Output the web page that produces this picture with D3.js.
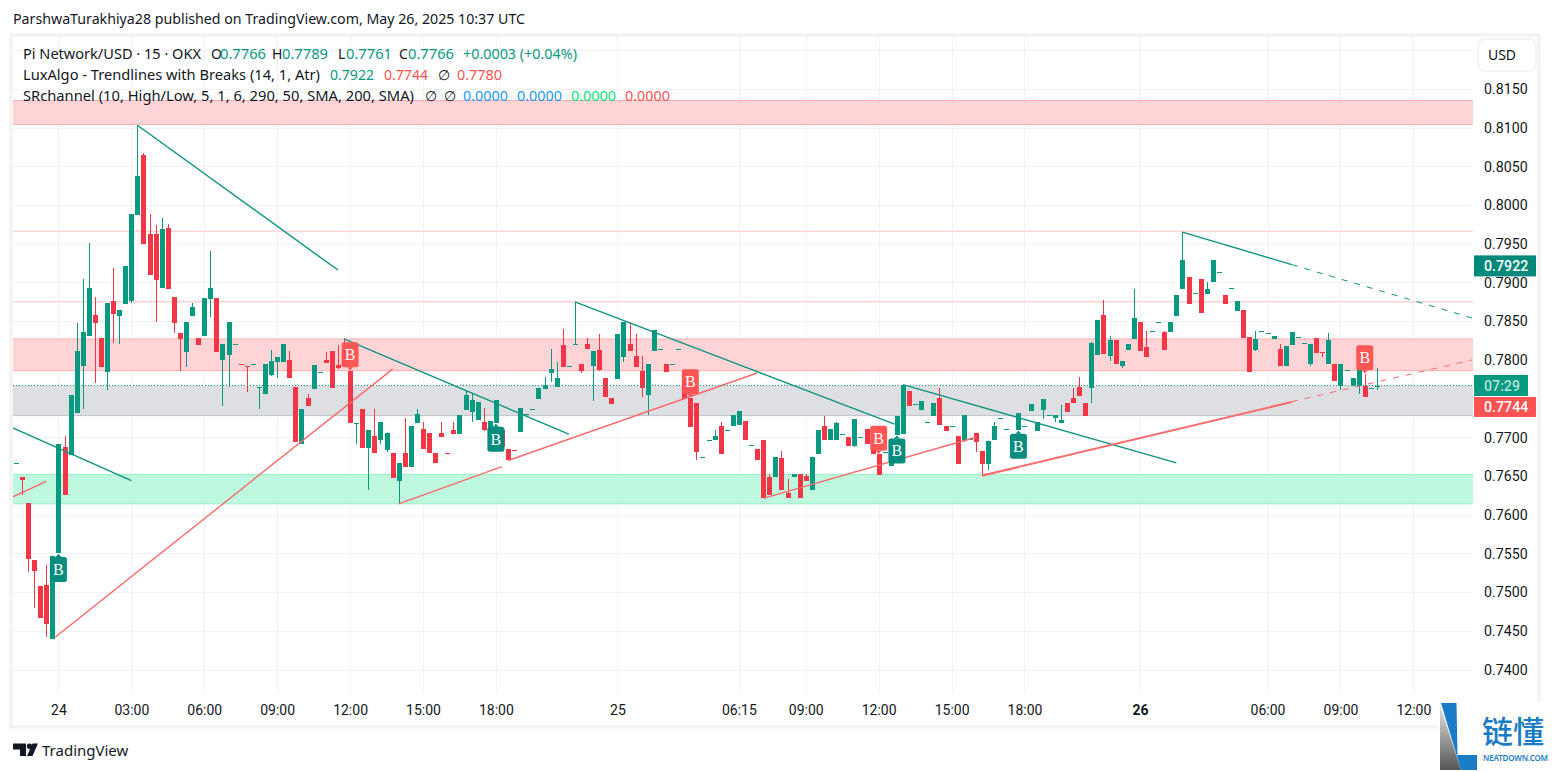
<!DOCTYPE html>
<html>
<head>
<meta charset="utf-8">
<title>Pi Network/USD</title>
<script src="https://cdn.jsdelivr.net/npm/d3@7/dist/d3.min.js"></script>
<style>
body { margin: 0; background: #fff; }
text { font-family: "Noto Sans", sans-serif; }
</style>
</head>
<body>
<svg id="chart" width="1553" height="772"></svg>
<script>
// 15 min candles
var opens = [.7667,.7649,.7615,.7542,.7508,.7509,.7439,.7550,.7687,.7677,.7731,.7792,.7831,.7858,.7828,.7784,.7876,.7857,.7872,.7876,.7987,.8065,.7963,.7962,.7893,.7970,.7881,.7835,.7810,.7857,.7828,.7831,.7879,.7880,.7800,.7806,.7820,.7794,.7792,.7793,.7765,.7756,.7781,.7797,.7797,.7800,.7765,.7691,.7751,.7762,.7784,.7800,.7812,.7793,.7812,.7786,.7718,.7737,.7686,.7702,.7697,.7684,.7680,.7643,.7680,.7662,.7719,.7711,.7706,.7680,.7706,.7680,.7709,.7704,.7735,.7733,.7722,.7720,.7697,.7718,.7709,.7685,.7684,.7707,.7730,.7737,.7749,.7762,.7783,.7765,.7819,.7792,.7820,.7794,.7821,.7792,.7813,.7777,.7751,.7775,.7804,.7821,.7805,.7786,.7755,.7812,.7814,.7794,.7794,.7814,.7777,.7751,.7744,.7674,.7697,.7697,.7715,.7709,.7714,.7716,.7721,.7690,.7685,.7697,.7649,.7649,.7673,.7628,.7649,.7653,.7650,.7632,.7678,.7715,.7697,.7697,.7704,.7700,.7689,.7700,.7711,.7685,.7678,.7681,.7663,.7703,.7704,.7760,.7743,.7735,.7720,.7727,.7751,.7715,.7715,.7702,.7697,.7698,.7706,.7682,.7666,.7697,.7725,.7711,.7698,.7709,.7715,.7734,.7708,.7735,.7729,.7725,.7718,.7744,.7751,.7765,.7744,.7764,.7806,.7858,.7805,.7826,.7792,.7813,.7827,.7849,.7817,.7837,.7849,.7836,.7836,.7857,.7892,.7907,.7886,.7905,.7885,.7900,.7914,.7884,.7893,.7863,.7864,.7829,.7813,.7837,.7835,.7827,.7814,.7792,.7819,.7829,.7822,.7794,.7828,.7810,.7794,.7794,.7766,.7787,.7766,.7766,.7766,.7764,.7766];
var highs = [.7667,.7649,.7615,.7542,.7508,.7535,.7547,.7691,.7702,.7755,.7847,.7904,.7951,.7881,.7828,.7873,.7919,.7864,.7921,.7989,.8103,.8067,.7989,.7974,.7983,.7975,.7881,.7835,.7849,.7873,.7828,.7880,.7941,.7880,.7821,.7849,.7821,.7794,.7792,.7794,.7765,.7794,.7813,.7804,.7821,.7811,.7765,.7737,.7756,.7793,.7784,.7810,.7812,.7819,.7827,.7786,.7719,.7737,.7710,.7737,.7720,.7706,.7680,.7667,.7725,.7715,.7737,.7720,.7706,.7680,.7720,.7680,.7720,.7729,.7760,.7756,.7745,.7738,.7721,.7748,.7709,.7685,.7684,.7738,.7730,.7737,.7764,.7778,.7814,.7797,.7840,.7792,.7875,.7794,.7828,.7812,.7834,.7777,.7751,.7834,.7849,.7849,.7834,.7805,.7794,.7838,.7814,.7794,.7794,.7814,.7777,.7751,.7744,.7674,.7697,.7709,.7720,.7709,.7729,.7734,.7721,.7690,.7685,.7697,.7652,.7674,.7682,.7646,.7653,.7653,.7653,.7674,.7709,.7728,.7711,.7720,.7704,.7700,.7724,.7700,.7711,.7685,.7678,.7681,.7686,.7728,.7768,.7760,.7743,.7747,.7720,.7744,.7764,.7715,.7715,.7702,.7729,.7698,.7706,.7682,.7695,.7720,.7725,.7711,.7698,.7731,.7715,.7743,.7720,.7749,.7729,.7729,.7742,.7744,.7764,.7778,.7744,.7823,.7852,.7877,.7831,.7826,.7799,.7821,.7891,.7849,.7837,.7837,.7849,.7837,.7849,.7884,.7965,.7907,.7886,.7905,.7901,.7929,.7914,.7884,.7893,.7876,.7864,.7829,.7837,.7837,.7835,.7831,.7821,.7818,.7836,.7829,.7822,.7821,.7828,.7810,.7835,.7794,.7795,.7787,.7777,.7787,.7782,.7764,.7789];
var lows = [.7667,.7626,.7526,.7480,.7467,.7442,.7439,.7550,.7625,.7677,.7731,.7737,.7831,.7770,.7791,.7761,.7822,.7821,.7872,.7873,.7987,.7950,.7909,.7849,.7893,.7891,.7835,.7786,.7791,.7857,.7819,.7831,.7855,.7810,.7740,.7765,.7820,.7793,.7758,.7793,.7737,.7756,.7779,.7777,.7797,.7777,.7694,.7691,.7740,.7762,.7784,.7796,.7764,.7788,.7792,.7718,.7691,.7686,.7632,.7680,.7691,.7681,.7648,.7614,.7662,.7662,.7719,.7685,.7680,.7667,.7700,.7679,.7704,.7704,.7735,.7720,.7722,.7708,.7697,.7718,.7687,.7670,.7683,.7707,.7730,.7737,.7749,.7762,.7771,.7765,.7791,.7792,.7820,.7783,.7814,.7747,.7786,.7752,.7743,.7775,.7797,.7812,.7791,.7752,.7729,.7812,.7814,.7784,.7794,.7814,.7749,.7713,.7670,.7674,.7697,.7697,.7679,.7709,.7714,.7716,.7697,.7690,.7670,.7621,.7626,.7649,.7632,.7621,.7649,.7621,.7644,.7632,.7678,.7697,.7697,.7697,.7704,.7689,.7688,.7700,.7691,.7678,.7651,.7681,.7663,.7703,.7704,.7740,.7743,.7735,.7720,.7727,.7716,.7708,.7715,.7666,.7694,.7698,.7681,.7651,.7658,.7697,.7725,.7711,.7686,.7709,.7715,.7734,.7708,.7723,.7729,.7720,.7718,.7733,.7744,.7753,.7727,.7744,.7806,.7808,.7799,.7794,.7790,.7813,.7827,.7812,.7804,.7837,.7849,.7813,.7836,.7857,.7892,.7872,.7886,.7860,.7885,.7900,.7914,.7872,.7893,.7863,.7828,.7784,.7812,.7837,.7835,.7827,.7792,.7792,.7819,.7829,.7822,.7792,.7809,.7804,.7794,.7773,.7761,.7787,.7766,.7756,.7752,.7764,.7761];
var closes = [.7667,.7645,.7543,.7527,.7467,.7459,.7547,.7691,.7625,.7755,.7812,.7836,.7893,.7848,.7791,.7873,.7859,.7864,.7921,.7989,.8038,.7950,.7909,.7903,.7969,.7891,.7847,.7827,.7849,.7868,.7819,.7880,.7893,.7810,.7821,.7849,.7821,.7793,.7791,.7794,.7765,.7794,.7799,.7804,.7821,.7777,.7694,.7737,.7740,.7793,.7784,.7796,.7764,.7790,.7792,.7718,.7719,.7686,.7710,.7680,.7720,.7706,.7648,.7667,.7662,.7715,.7730,.7685,.7680,.7667,.7700,.7679,.7704,.7729,.7755,.7748,.7745,.7709,.7721,.7748,.7687,.7670,.7683,.7738,.7730,.7737,.7764,.7768,.7788,.7777,.7791,.7792,.7821,.7786,.7814,.7812,.7787,.7752,.7743,.7834,.7849,.7812,.7791,.7764,.7794,.7838,.7814,.7784,.7794,.7814,.7749,.7713,.7681,.7674,.7697,.7702,.7679,.7709,.7729,.7734,.7697,.7690,.7670,.7621,.7626,.7674,.7632,.7621,.7653,.7621,.7644,.7674,.7709,.7697,.7711,.7718,.7704,.7689,.7724,.7700,.7691,.7678,.7651,.7681,.7686,.7728,.7768,.7740,.7743,.7747,.7720,.7744,.7716,.7708,.7715,.7666,.7729,.7698,.7694,.7666,.7695,.7715,.7725,.7711,.7695,.7731,.7715,.7743,.7720,.7749,.7729,.7729,.7722,.7733,.7744,.7753,.7727,.7822,.7852,.7808,.7826,.7794,.7799,.7821,.7854,.7812,.7804,.7837,.7849,.7813,.7849,.7884,.7929,.7872,.7886,.7860,.7892,.7929,.7914,.7872,.7893,.7876,.7828,.7784,.7827,.7837,.7835,.7831,.7792,.7818,.7836,.7829,.7822,.7821,.7809,.7809,.7826,.7773,.7795,.7787,.7777,.7787,.7752,.7764,.7766];

var priceTicks = [.815,.81,.805,.8,.795,.79,.785,.78,.77,.765,.76,.755,.75,.745,.74];
var priceGrid = [.82,.815,.81,.805,.8,.795,.79,.785,.78,.775,.77,.765,.76,.755,.75,.745,.74,.735];
var timeIdx = [7,19,31,43,55,67,79,99,119,130,142,154,166,185,206,218,230];
var timeLabels = ["24","03:00","06:00","09:00","12:00","15:00","18:00","25","06:15","09:00","12:00","15:00","18:00","26","06:00","09:00","12:00"];

// support / resistance zones
var zoneTop = [.8135,.7967,.7876,.7827,.7767,.7652];
var zoneBottom = [.8104,.7965,.7874,.7786,.7728,.7614];
var zoneKind = ["res","line","line","res","mid","sup"];

// trendlines: start index, start price, end index, end price
var greenLines = [[-.5,.7712,19,.7644],[20,.8103,53,.7916],[54,.7827,91,.7704],[92,.7875,144.6,.7717],[146,.7768,191,.7667],[192,.7965,210,.7923]];
var redLines = [[-.5,.7623,5,.7643],[6.5,.7442,62,.7788],[63,.7614,80,.7662],[81,.7670,122,.7783],[123,.7621,158,.7700],[159,.7651,210,.7746],[159,.7650,210,.7745]];
var greenDash = [[210,.7923,239.7,.7854]];
var redDash = [[210,.7746,239.7,.7800]];

// break labels
var buyGreen = [7,79,145,165];
var buyRed = [55,111,142,222];

var lastPrice = .7767;
var upperLevel = .7922;
var lowerLevel = .7744;

var svg = d3.select("#chart");
var left = 13, right = 1473, top_ = 37, bottom = 693;

var x = d3.scaleLinear().domain([0,224]).range([15.9,1376.9]);
var y = d3.scaleLinear().domain([.74,.81]).range([669.5,127.6]);

svg.append("defs").append("clipPath").attr("id","pane")
	.append("rect").attr("x",left).attr("y",top_).attr("width",right-left).attr("height",bottom-top_);

// outer frame
svg.append("rect").attr("x",11).attr("y",35).attr("width",1528).attr("height",692)
	.attr("fill","none").attr("stroke","#f2f2f3").attr("stroke-width",3);

var pane = svg.append("g").attr("clip-path","url(#pane)");

// grid
pane.selectAll(".hgrid").data(priceGrid).enter().append("line")
	.attr("x1",left).attr("x2",right)
	.attr("y1",function(d){return Math.round(y(d))+.5})
	.attr("y2",function(d){return Math.round(y(d))+.5})
	.attr("stroke","#f2f2f3").attr("stroke-width",1);
pane.selectAll(".vgrid").data(timeIdx).enter().append("line")
	.attr("y1",top_).attr("y2",bottom)
	.attr("x1",function(d){return Math.round(x(d))+.5})
	.attr("x2",function(d){return Math.round(x(d))+.5})
	.attr("stroke","#f2f2f3").attr("stroke-width",1);

// zones
var zoneFill = {res:"#ffd2d4",line:"#ffd2d4",mid:"#dcdde1",sup:"#bbf8dc"};
var zoneEdge = {res:"#ffb0b0",line:"#ffd2d4",mid:"#c2c3c9",sup:"#99efc4"};
zoneTop.forEach(function(t,i){
	var kind = zoneKind[i];
	pane.append("rect").attr("x",left).attr("width",right-left)
		.attr("y",y(t)).attr("height",y(zoneBottom[i])-y(t))
		.attr("fill",zoneFill[kind]).attr("fill-opacity",.95);
	if(kind!="line"){
		[t,zoneBottom[i]].forEach(function(v,k){
			if(kind=="mid" && k==0) return;
			pane.append("line").attr("x1",left).attr("x2",right)
				.attr("y1",y(v)).attr("y2",y(v))
				.attr("stroke",zoneEdge[kind]).attr("stroke-width",1);
		});
	}
});

// candles
var up = "#089981", down = "#f23645";
var candles = pane.append("g").attr("shape-rendering","crispEdges");
opens.forEach(function(o,i){
	var c = closes[i];
	var col = c>=o ? up : down;
	var cx = Math.round(x(i));
	candles.append("rect").attr("x",cx).attr("width",1)
		.attr("y",y(highs[i])).attr("height",Math.max(y(lows[i])-y(highs[i]),1))
		.attr("fill",col);
	var yt = y(Math.max(o,c)), yb = y(Math.min(o,c));
	candles.append("rect").attr("x",cx-2).attr("width",5)
		.attr("y",yt).attr("height",Math.max(yb-yt,1))
		.attr("fill",col);
});

// trendlines
function drawLines(list,col,dash){
	pane.selectAll(null).data(list).enter().append("line")
		.attr("x1",function(d){return x(d[0])})
		.attr("y1",function(d){return y(d[1])})
		.attr("x2",function(d){return x(d[2])})
		.attr("y2",function(d){return y(d[3])})
		.attr("stroke",col).attr("stroke-width",dash?1:1.4)
		.attr("stroke-dasharray",dash?"6 7":null);
}
drawLines(greenLines,"#0f9480",false);
drawLines(redLines,"#fa6a6a",false);
drawLines(greenDash,"#0f9480",true);
drawLines(redDash,"#fa6a6a",true);

// current price dotted line
pane.append("line").attr("x1",left).attr("x2",right)
	.attr("y1",Math.round(y(lastPrice))+.5).attr("y2",Math.round(y(lastPrice))+.5)
	.attr("stroke","#089981").attr("stroke-width",1).attr("stroke-dasharray","1 2");

// B labels
function badge(i,isGreen){
	var cx = x(i);
	var col = isGreen ? "#00897b" : "#ff5252";
	var py = isGreen ? y(lows[i])+.5 : y(highs[i])-.5;
	var dir = isGreen ? 1 : -1;
	var g = pane.append("g");
	var bt = isGreen ? py+3 : py-28;
	g.append("rect").attr("x",cx-8.5).attr("y",bt).attr("width",17).attr("height",25)
		.attr("rx",2.5).attr("fill",col).attr("fill-opacity",.97);
	g.append("path").attr("d",d3.line()([[cx-3,py+dir*3],[cx,py],[cx+3,py+dir*3]])).attr("fill",col);
	g.append("text").attr("x",cx).attr("y",bt+18).attr("text-anchor","middle")
		.attr("fill","#fff").attr("font-size",16).style("font-family","'Liberation Serif',serif").text("B");
}
buyGreen.forEach(function(i){badge(i,true)});
buyRed.forEach(function(i){badge(i,false)});

// price axis
var yAxis = d3.axisRight(y).tickValues(priceTicks).tickFormat(d3.format(".4f")).tickSize(0).tickPadding(0);
var gy = svg.append("g").attr("transform","translate(1484,0)").call(yAxis);
gy.select(".domain").remove();
gy.selectAll("text").attr("fill","#131722").attr("font-size",14.2).style("font-family","Roboto, sans-serif").attr("dy",".34em");

// time axis
var xAxis = d3.axisBottom(x).tickValues(timeIdx).tickFormat(function(d,i){return timeLabels[i]}).tickSize(0).tickPadding(0);
var gx = svg.append("g").attr("transform","translate(0,705)").call(xAxis);
gx.select(".domain").remove();
gx.selectAll("text").attr("fill","#131722").attr("font-size",14).style("font-family","Roboto, sans-serif")
	.attr("font-weight",function(d,i){return timeLabels[i]=="26"?"700":"400"});

// USD box
svg.append("rect").attr("x",1478).attr("y",39).attr("width",58).attr("height",32)
	.attr("rx",6).attr("fill","#fff").attr("stroke","#f0f0f2").attr("stroke-width",1.5);
svg.append("text").attr("x",1502).attr("y",60).attr("text-anchor","middle").attr("fill","#131722")
	.attr("font-size",14).text("USD");

// price tags
function tag(top,w,h,fill,txt,txtCol){
	svg.append("rect").attr("x",1474).attr("y",top).attr("width",w).attr("height",h).attr("fill",fill);
	svg.append("text").attr("x",1484).attr("y",top+h/2+5).attr("fill",txtCol)
		.attr("font-size",14.2).attr("font-weight",500).style("font-family","Roboto, sans-serif").text(txt);
}
tag(y(upperLevel)-10,62,21,"#00897b",d3.format(".4f")(upperLevel),"#fff");
tag(375,54,21,"#089981","07:29","#b5e3da");
tag(397,62,20,"#ff5252",d3.format(".4f")(lowerLevel),"#fff");

// header text
function label(s,xp,yp,col,w){
	var t = svg.append("text").attr("x",xp).attr("y",yp).attr("fill",col).attr("font-size",14).text(s);
	if(w) t.attr("textLength",w).attr("lengthAdjust","spacingAndGlyphs");
}
label("ParshwaTurakhiya28 published on TradingView.com, May 26, 2025 10:37 UTC",13,24,"#131722",512);

var ink = "#131722", teal = "#089981", red2 = "#ff5252";
label("Pi Network/USD · 15 · OKX",23,59,ink,178);
label("O",211,59,ink);label("0.7766",220,59,teal,46);
label("H",272,59,ink);label("0.7789",282,59,teal,46);
label("L",338,59,ink);label("0.7761",346,59,teal,46);
label("C",399,59,ink);label("0.7766",408,59,teal,46);
label("+0.0003 (+0.04%)",463,59,teal,114);

label("LuxAlgo - Trendlines with Breaks (14, 1, Atr)",23,80,ink,297);
label("0.7922",330,80,teal,44);
label("0.7744",384,80,red2,44);
label("∅",438,80,ink);
label("0.7780",457,80,red2,45);

label("SRchannel (10, High/Low, 5, 1, 6, 290, 50, SMA, 200, SMA)",23,101,ink,391);
label("∅",425,101,ink);
label("∅",444,101,ink);
label("0.0000",463,101,"#2196f3",45);
label("0.0000",517,101,"#2196f3",45);
label("0.0000",571,101,"#00e676",45);
label("0.0000",625,101,"#ff5252",45);

// TradingView mark
svg.append("path").attr("d","M13 743.5H26V756H20V749.5H13Z").attr("fill","#131722");
svg.append("circle").attr("cx",29.5).attr("cy",746.2).attr("r",2.7).attr("fill","#131722");
svg.append("path").attr("d","M32.5 743.5H38L32.5 756H27Z").attr("fill","#131722");
svg.append("text").attr("x",42).attr("y",756).attr("fill","#131722").attr("font-size",15).text("TradingView");

// site watermark
svg.append("rect").attr("x",1438).attr("y",702).attr("width",115).attr("height",70).attr("fill","#fff");
var grad = svg.select("defs").append("linearGradient").attr("id","wm").attr("x1",0).attr("y1",0).attr("x2",0).attr("y2",1);
grad.append("stop").attr("offset",0).attr("stop-color","#e6e6e6");
grad.append("stop").attr("offset",1).attr("stop-color","#555");
svg.append("path").attr("d","M1440 705V770H1461Z").attr("fill","url(#wm)");
svg.append("path").attr("d","M1441 703H1456.5L1457.5 755H1477V770H1461Z").attr("fill","#1a7cc7");
svg.append("text").attr("x",1482).attr("y",743).attr("fill","#1a7cc7").attr("font-size",31).attr("font-weight",500)
	.style("font-family","'Noto Sans CJK SC'").text("链懂");
svg.append("text").attr("x",1483).attr("y",761).attr("fill","#1a7cc7").attr("font-size",8).attr("font-weight",600)
	.attr("textLength",65).text("NEATDOWN.COM");
</script>
</body>
</html>
